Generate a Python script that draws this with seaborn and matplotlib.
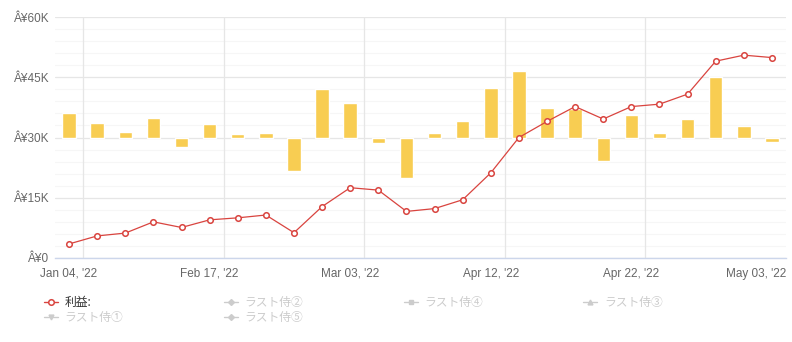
import matplotlib
matplotlib.use("Agg")
import matplotlib.pyplot as plt
from matplotlib.lines import Line2D
import seaborn as sns
import pandas as pd
import numpy as np

sns.set_theme(style="white")
plt.rcParams['font.family'] = ['Liberation Sans Narrow', 'Liberation Sans', 'Noto Sans CJK JP', 'DejaVu Sans']

# ---- data ----
x_labels = ["Jan 04, '22", "Feb 17, '22", "Mar 03, '22", "Apr 12, '22", "Apr 22, '22", "May 03, '22"]
label_index = [0, 5, 10, 15, 20, 25]
profit = [3.5, 5.5, 6.2, 9.0, 7.6, 9.5, 10.0, 10.7, 6.3, 12.8, 17.5, 16.9,
          11.6, 12.3, 14.5, 21.2, 30.0, 34.0, 37.7, 34.6, 37.7, 38.3, 40.8, 49.0, 50.5, 49.9]
profit = [v * 1000 for v in profit]
bar_tops = [36.1, 33.6, 31.4, 34.9, 27.7, 33.4, 30.9, 31.2, 21.7, 42.1, 38.6, 28.7,
            20.0, 31.2, 34.2, 42.4, 46.6, 37.4, 37.0, 24.2, 35.7, 31.2, 34.7, 45.1, 32.9, 29.0]
bar_tops = [v * 1000 for v in bar_tops]
bar_base = 30000
y_ticks = [0, 15000, 30000, 45000, 60000]
y_tick_labels = ["Â¥0", "Â¥15K", "Â¥30K", "Â¥45K", "Â¥60K"]
legend_labels = ["利益:", "ラスト侍②", "ラスト侍④", "ラスト侍③", "ラスト侍①", "ラスト侍⑤"]

n = len(profit)
df = pd.DataFrame({
    "idx": np.arange(n),
    "profit": profit,
    "delta": [b - bar_base for b in bar_tops],
})

W, H = 792, 342
fig = plt.figure(figsize=(W / 100, H / 100), dpi=100)
ax = fig.add_axes([55 / W, 1 - 258 / H, (786 - 55) / W, (258 - 17) / H])

# grid
for v in range(0, 60001, 3000):
    if v % 15000 != 0:
        ax.axhline(v, color="#f6f6f6", lw=0.8, zorder=0)
for v in y_ticks:
    ax.axhline(v, color="#e6e6e6", lw=0.9, zorder=0)
for i in range(0, n - 1, 5):
    ax.axvline(i + 0.5, color="#e6e6e6", lw=0.9, zorder=0)

# bars
sns.barplot(data=df, x="idx", y="delta", bottom=bar_base, color="#f8cd52",
            saturation=1, width=0.48, ax=ax, zorder=2, native_scale=True)

# line
sns.lineplot(data=df, x="idx", y="profit", color="#d9443f", lw=0.9, ax=ax, zorder=3,
             marker="o", markersize=4, markerfacecolor="white", markeredgecolor="#d9443f",
             markeredgewidth=1.1)

ax.set_xlim(-0.5, n - 0.5)
ax.set_ylim(0, 60000)
ax.set_yticks(y_ticks)
ax.set_yticklabels(y_tick_labels)
tick_pos = list(label_index[:-1]) + [n - 0.5]
ax.set_xticks(tick_pos)
ax.set_xticklabels(x_labels)
ax.get_xticklabels()[-1].set_horizontalalignment("right")
ax.tick_params(axis="both", length=0, labelsize=8.5, labelcolor="#666666")
ax.tick_params(axis="x", pad=7)
ax.tick_params(axis="y", pad=4)
ax.set_xlabel("")
ax.set_ylabel("")
for s in ["top", "right", "left"]:
    ax.spines[s].set_visible(False)
ax.spines["bottom"].set_color("#ccd6eb")
ax.spines["bottom"].set_linewidth(1)

# legend
grey = "#cccccc"
handles = [
    Line2D([], [], color="#d9443f", lw=1, marker="o", markersize=4, markerfacecolor="white", markeredgewidth=1.1),
    Line2D([], [], color=grey, lw=1, marker="D", markersize=3),
    Line2D([], [], color=grey, lw=1, marker="s", markersize=3.5),
    Line2D([], [], color=grey, lw=1, marker="^", markersize=3.5),
    Line2D([], [], color=grey, lw=1, marker="v", markersize=3.5),
    Line2D([], [], color=grey, lw=1, marker="D", markersize=3),
]
order = [0, 4, 1, 5, 2, 3]
leg = fig.legend([handles[i] for i in order], [legend_labels[i] for i in order],
                 loc="upper left", bbox_to_anchor=(44 / W, 1 - 296 / H), ncol=4,
                 frameon=False, fontsize=8.5, handlelength=1.2, handletextpad=0.55,
                 columnspacing=8.5, labelspacing=0.15, borderaxespad=0, borderpad=0)
for t, i in zip(leg.get_texts(), order):
    t.set_color("#333333" if i == 0 else grey)
    t.set_family(['Noto Sans CJK JP', 'DejaVu Sans'])

fig.savefig("out.png", dpi=100)
